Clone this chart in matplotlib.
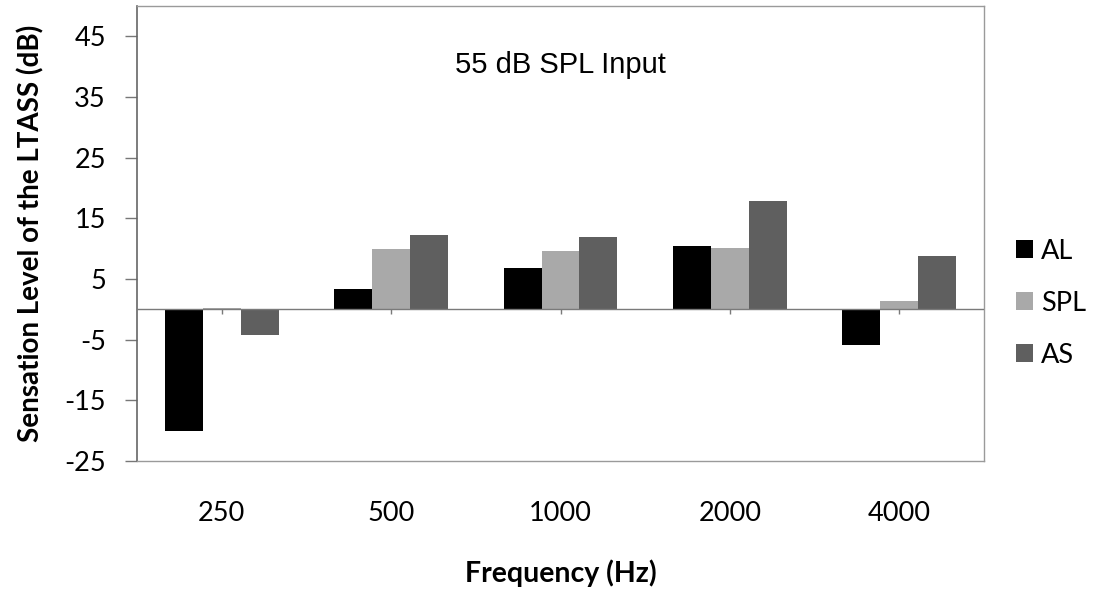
import matplotlib
matplotlib.use("Agg")
import matplotlib.pyplot as plt
import numpy as np

categories = ["250", "500", "1000", "2000", "4000"]
series_names = ["AL", "SPL", "AS"]
al_values = [-20.0, 3.4, 6.8, 10.5, -5.8]
spl_values = [0.3, 10.0, 9.6, 10.1, 1.4]
as_values = [-4.3, 12.2, 12.0, 17.9, 8.8]
y_ticks = [-25, -15, -5, 5, 15, 25, 35, 45]
title_text = "55 dB SPL Input"

colors = ["#000000", "#a9a9a9", "#5f5f5f"]

fig = plt.figure(figsize=(11.06, 5.93), dpi=100)
ax = fig.add_axes([0.1239, 0.2226, 0.7658, 0.7673])

x = np.arange(len(categories))
w = 0.224
for i, (vals, name, c) in enumerate(zip([al_values, spl_values, as_values], series_names, colors)):
    ax.bar(x + (i - 1) * w, vals, width=w, color=c, label=name, zorder=2)

ax.set_xlim(-0.5, len(categories) - 0.5)
ax.set_ylim(-25, 50)
ax.axhline(0, color="#7a7a7a", lw=1.0, zorder=3)
ax.vlines(x, -0.8, 0, color="#7a7a7a", lw=1.0, zorder=3)

ax.set_yticks(y_ticks)
ax.set_yticklabels([str(t) for t in y_ticks], fontsize=19.5, family="Lato")
ax.tick_params(axis="y", direction="out", length=8.5, width=1, color="#777777", pad=14)
ax.set_xticks(x)
ax.set_xticklabels(categories, fontsize=19.5, family="Lato")
ax.tick_params(axis="x", length=0, pad=29)

for s in ["top", "right", "bottom"]:
    ax.spines[s].set_color("#9a9a9a")
    ax.spines[s].set_linewidth(1.0)
ax.spines["left"].set_color("#666666")
ax.spines["left"].set_linewidth(1.2)

ax.set_ylabel("Sensation Level of the LTASS (dB)", fontsize=20, fontweight="bold", family="Lato", labelpad=14)
ax.set_xlabel("Frequency (Hz)", fontsize=20.5, fontweight="bold", family="Lato", labelpad=24)

ax.text(2, 38.9, title_text, ha="center", va="baseline", fontsize=21, family="Liberation Sans")

leg = ax.legend(loc="center left", bbox_to_anchor=(1.022, 0.347), frameon=False, borderpad=0,
                prop={"family": "Lato", "size": 19.5}, handlelength=0.62, handleheight=0.62,
                handletextpad=0.3, labelspacing=1.0)

fig.savefig("out.png", dpi=100)
